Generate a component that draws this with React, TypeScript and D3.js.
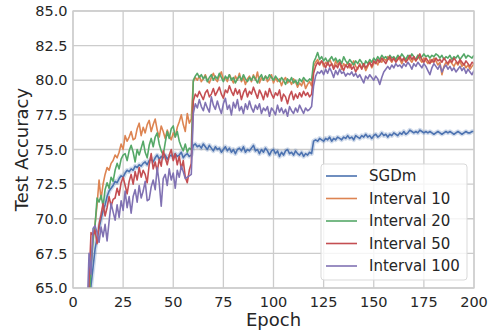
import * as d3 from 'd3';

const W = 489;
const H = 334;
const M = { top: 11, right: 15, bottom: 46, left: 73 };

const FIRST_EPOCH = 7;

const sgdm = [
  61.0, 63.5, 65.2, 66.5, 67.8, 68.6, 69.3, 70.0, 70.6, 71.0, 71.6, 72.0, 72.2, 72.4,
  72.7, 72.6, 72.9, 73.1, 73.0, 73.3, 73.5, 73.4, 73.6, 73.5, 73.8, 73.7, 73.9, 73.8,
  74.0, 74.1, 73.9, 74.2, 74.3, 74.1, 74.4, 74.6, 74.3, 74.5, 74.4, 74.6, 74.3, 74.5,
  74.6, 74.4, 74.7, 74.5, 74.6, 74.8, 74.4, 74.6, 74.7, 74.5, 74.6, 75.3, 75.4, 75.2,
  75.3, 75.1, 75.4, 75.2, 75.0, 75.3, 75.1, 74.9, 75.2, 75.0, 75.1, 74.8, 75.0, 75.2,
  74.9, 75.1, 74.8, 75.0, 74.7, 75.0, 75.1, 74.9, 75.2, 74.8, 75.0, 74.9, 75.1, 75.3,
  74.9, 75.0, 74.7, 75.0, 74.8, 75.1, 74.9, 74.6, 74.9, 75.0, 74.7, 74.9, 74.5, 74.8,
  74.6, 74.9, 75.0, 74.7, 74.8, 74.6, 74.9, 74.7, 74.6, 74.8, 74.5, 74.7, 74.6, 74.8,
  74.7, 75.6, 75.7, 75.6, 75.8, 75.7, 75.6, 75.8, 75.7, 75.9, 75.6, 75.8, 75.7, 75.9,
  75.8, 75.7, 75.9, 75.8, 76.0, 75.8, 75.9, 75.7, 76.0, 75.9, 75.8, 76.0, 75.9, 76.1,
  75.9, 76.0, 75.8, 76.0, 76.1, 75.9, 76.0, 76.2, 76.0, 76.1, 75.9, 76.1, 76.0, 76.2,
  76.1, 76.0, 76.2, 76.1, 76.3, 76.1, 76.2, 76.4, 76.3, 76.2, 76.3, 76.2, 76.4, 76.3,
  76.2, 76.3, 76.2, 76.3, 76.2, 76.1, 76.2, 76.3, 76.2, 76.1, 76.2, 76.3, 76.2, 76.3,
  76.2, 76.1, 76.2, 76.3, 76.2, 76.1, 76.2, 76.3, 76.2, 76.2, 76.3, 76.3,
];

const interval10 = [
  60.5, 64.0, 66.8, 68.7, 69.6, 71.0, 72.8, 71.4, 72.5, 73.2, 73.7, 73.5, 74.0, 74.2,
  74.6, 74.4, 74.8, 75.4, 75.0, 76.0, 75.6, 75.9, 76.3, 75.7, 75.8, 76.5, 76.9, 76.0,
  76.6, 76.2, 76.8, 77.1, 76.3, 76.8, 77.2, 76.4, 75.9, 76.7, 76.3, 75.8, 76.4, 76.0,
  75.7, 76.2, 75.9, 76.6, 77.0, 77.5, 76.8, 76.3, 77.6, 76.9, 77.2, 79.9, 80.2, 80.0,
  80.3, 79.9, 80.1, 80.4, 80.0, 79.8, 80.2, 80.5, 80.1, 79.9, 80.3, 80.6, 80.0, 80.2,
  79.9, 80.4, 80.1, 79.8, 80.3, 80.0, 80.5, 79.9, 80.2, 79.7, 80.1, 80.3, 79.9, 80.4,
  80.0, 80.6, 79.8, 80.2, 80.0, 80.3, 79.9, 80.1, 80.4, 79.8, 80.2, 79.9, 80.1, 79.6,
  80.0, 80.2, 79.8, 80.0, 79.7, 80.1, 79.9, 79.5, 79.8, 79.6, 80.0, 79.4, 79.7, 79.9,
  79.6, 81.0, 81.3, 81.5, 81.2, 81.4, 81.0, 81.3, 81.1, 81.5, 81.2, 80.9, 81.4, 81.1,
  81.3, 80.8, 81.2, 81.0, 81.3, 80.9, 81.1, 81.4, 81.0, 80.8, 81.2, 80.9, 81.1, 80.7,
  81.0, 81.3, 80.9, 81.2, 81.4, 81.1, 81.5, 81.3, 81.6, 81.4, 81.7, 81.5, 81.3, 81.6,
  81.4, 81.7, 81.5, 81.2, 81.6, 81.4, 81.7, 81.5, 81.3, 81.6, 81.4, 81.8, 81.5, 81.3,
  81.6, 81.4, 81.2, 81.5, 81.3, 81.6, 81.4, 81.1, 81.3, 80.4, 81.0, 81.3, 81.1, 81.4,
  81.2, 81.0, 81.3, 81.1, 81.4, 81.0, 81.2, 80.9, 81.1, 80.8, 81.0, 81.2,
];

const interval20 = [
  60.0, 63.8, 66.5, 68.4, 69.5, 71.5, 71.2, 71.7, 70.9, 72.1, 72.6, 72.2, 73.0, 72.7,
  73.5, 74.0, 73.6, 74.3, 74.6, 74.7, 74.2, 74.9, 75.3, 74.8, 74.1, 75.0, 74.6, 75.1,
  75.6, 74.8, 74.4, 75.3, 75.8, 75.2, 75.9, 76.2, 75.4, 74.9, 74.6, 75.5, 76.3, 75.8,
  76.5, 76.7, 75.9, 76.3, 75.6, 75.2, 74.9, 75.4, 74.8, 75.1, 75.0, 80.0, 80.3, 80.5,
  80.2, 80.4, 80.1, 80.3, 79.9, 80.2, 80.4, 80.0, 80.3, 80.1, 80.5, 80.2, 79.9, 80.3,
  80.1, 80.4, 80.0, 80.2, 79.8, 80.1, 80.3, 80.0, 80.4, 80.1, 79.9, 80.2, 80.0, 80.3,
  80.1, 79.8, 80.2, 80.4, 80.0, 80.3, 80.1, 80.4, 80.2, 80.0, 80.3, 80.1, 79.9, 80.2,
  80.0, 79.7, 80.1, 79.9, 80.2, 79.8, 80.0, 79.7, 80.1, 79.9, 80.2, 80.0, 79.9, 80.1,
  80.0, 81.3, 81.6, 82.0, 81.5, 81.7, 81.4, 81.6, 81.3, 81.5, 81.7, 81.4, 81.6, 81.3,
  81.5, 81.2, 81.7, 81.4, 81.2, 81.5, 81.3, 81.1, 81.4, 81.2, 81.5, 81.3, 81.0, 81.4,
  81.2, 81.5, 81.3, 81.6, 81.4, 81.7, 81.5, 81.8, 81.6, 81.7, 81.5, 81.8, 81.6, 81.7,
  81.5, 81.8, 81.6, 81.9, 81.7, 81.5, 81.8, 81.6, 81.9, 81.7, 81.5, 81.8, 81.6, 81.7,
  81.9, 81.7, 81.8, 81.6, 81.8, 81.7, 81.9, 81.8, 81.6, 81.8, 81.5, 81.7, 81.6, 81.8,
  81.5, 81.7, 81.6, 81.8, 81.5, 81.7, 81.9, 81.6, 81.8, 81.7, 81.6, 81.8,
];

const interval50 = [
  61.5, 65.5, 69.0, 68.8, 69.2, 68.2, 69.6, 70.3, 71.1, 70.2, 70.8, 71.6, 70.9, 71.4,
  71.5, 72.2, 71.7, 72.6, 73.0, 72.4, 71.8, 72.7, 73.2, 72.5, 73.4, 72.8, 73.7, 73.0,
  73.5, 73.2, 72.6, 73.9, 74.7, 73.6, 74.1, 73.4, 74.3, 73.8, 74.9, 74.4, 73.9, 74.6,
  75.0, 74.2, 74.7, 73.9, 74.5, 73.6, 74.2, 73.0, 72.6, 73.5, 74.0, 78.5, 79.0, 78.8,
  79.2, 78.9, 78.6, 79.1, 79.3, 78.8, 79.0, 79.4, 78.9, 79.2, 79.5, 79.0, 78.7, 79.3,
  79.1, 79.6, 79.2, 78.9, 79.4, 79.0, 79.3, 78.6, 79.1, 79.4, 78.8, 79.2, 79.0, 79.5,
  79.1, 78.7, 79.3, 79.0, 78.6, 79.2, 78.8, 79.4, 79.0, 78.7, 79.1, 78.9, 79.3, 78.5,
  79.0, 78.8, 78.3, 78.9, 79.2, 78.6, 79.0, 78.7, 79.1, 78.8, 79.2, 78.9, 79.1, 78.8,
  79.0, 80.5, 81.0, 81.3, 81.1, 81.4, 81.2, 80.9, 81.3, 81.0, 81.2, 80.8, 81.1, 80.9,
  81.3, 81.0, 80.7, 81.1, 80.9, 81.2, 80.8, 81.0, 80.6, 80.9, 81.1, 80.8, 81.2, 80.9,
  81.1, 81.3, 81.0, 81.4, 81.2, 81.5, 81.3, 81.6, 81.4, 81.2, 81.5, 81.7, 81.4, 81.6,
  81.3, 81.5, 81.7, 81.4, 81.6, 81.3, 81.5, 81.8, 81.5, 81.7, 81.4, 81.6, 81.9, 81.5,
  81.3, 81.6, 81.4, 81.2, 81.5, 81.3, 81.6, 81.4, 81.5, 81.3, 81.6, 81.4, 81.2, 81.5,
  81.3, 81.6, 81.4, 81.2, 81.5, 81.3, 81.1, 81.4, 81.2, 81.0, 81.3, 81.2,
];

const interval100 = [
  63.0, 67.5, 66.0, 69.3, 69.5, 69.0, 68.3, 69.4, 68.7, 69.6, 68.4, 69.8, 71.1, 70.5,
  69.9, 71.0, 70.1, 71.3, 70.6, 72.0, 70.8, 71.6, 70.4, 71.6, 72.1, 71.2, 72.4, 71.5,
  72.0, 72.7, 71.3, 71.4, 72.3, 72.8, 72.1, 73.7, 72.6, 70.9, 72.9, 73.2, 72.4, 73.6,
  72.8, 73.3, 72.2, 73.5, 73.0, 73.8, 73.4, 72.9, 73.0, 73.1, 73.2, 77.6, 78.3, 78.0,
  78.6, 78.1, 77.8, 78.4, 78.0, 77.7, 78.8, 78.2, 77.9, 78.5, 78.0, 77.6, 78.3, 78.7,
  77.9, 78.2, 77.5, 78.4, 78.0, 78.6, 77.8, 78.1, 77.6, 78.3, 77.9, 78.5, 78.0, 77.7,
  78.2, 77.9, 78.3, 77.6, 78.0, 77.8, 78.1, 77.4, 78.0, 77.8, 77.5, 78.2, 77.7, 78.0,
  77.6, 77.9, 77.4, 78.1, 77.8, 77.6, 78.0, 77.7, 78.2, 77.9, 77.6, 78.0, 77.8, 77.9,
  78.1, 79.6, 80.3, 80.6, 80.5, 80.7, 80.4, 80.8, 80.5, 80.9, 80.6, 80.2, 80.7, 80.4,
  80.8, 80.5, 80.6, 80.3, 80.5, 80.4, 80.6, 80.3, 80.5, 80.2, 80.4, 80.1, 79.8, 80.3,
  80.1, 80.4, 80.2, 80.0, 80.3, 80.1, 79.7, 80.2, 80.6, 80.8, 81.0, 80.8, 81.1, 80.9,
  81.2, 81.0, 81.1, 80.9, 81.2, 81.0, 81.3, 81.1, 80.8, 81.2, 81.0, 81.3, 81.1, 80.9,
  81.2, 81.0, 80.7, 80.4, 80.9, 81.2, 81.0, 80.8, 81.1, 80.6, 80.9, 81.1, 80.8, 81.0,
  80.7, 80.9, 80.6, 80.8, 81.0, 80.7, 80.9, 80.5, 80.8, 80.6, 80.4, 80.7,
];

const seriesNames = ['SGDm', 'Interval 10', 'Interval 20', 'Interval 50', 'Interval 100'];
const seriesValues = [sgdm, interval10, interval20, interval50, interval100];
const colors = ['#4c72b0', '#dd8452', '#55a868', '#c44e52', '#8172b3'];

const xTicks = [0, 25, 50, 75, 100, 125, 150, 175, 200];
const yTicks = [65, 67.5, 70, 72.5, 75, 77.5, 80, 82.5, 85];

const FONT = '"DejaVu Sans", sans-serif';
const TEXT = '#262626';
const GRID = '#cccccc';

export default function App() {
  const innerW = W - M.left - M.right;
  const innerH = H - M.top - M.bottom;
  const x = d3.scaleLinear().domain([0, 200]).range([M.left, M.left + innerW]);
  const y = d3.scaleLinear().domain([65, 85]).range([M.top + innerH, M.top]);

  const line = d3.line<number>()
    .x((_, i) => x(FIRST_EPOCH + i))
    .y(d => y(d));

  const legX = 321;
  const legY = 164;
  const rowH = 22.5;

  return (
    <svg width={W} height={H} style={{ position: 'absolute', left: 0, top: 0, background: '#fff' }}
      fontFamily={FONT}>
      <defs>
        <clipPath id="plot-clip">
          <rect x={M.left} y={M.top} width={innerW} height={innerH} />
        </clipPath>
      </defs>

      {/* grid */}
      {xTicks.map(t => (
        <line key={'gx' + t} x1={x(t)} x2={x(t)} y1={M.top} y2={M.top + innerH}
          stroke={GRID} strokeWidth={1.3} />
      ))}
      {yTicks.map(t => (
        <line key={'gy' + t} x1={M.left} x2={M.left + innerW} y1={y(t)} y2={y(t)}
          stroke={GRID} strokeWidth={1.3} />
      ))}

      {/* lines */}
      <g clipPath="url(#plot-clip)">
        <path d={line(sgdm) ?? ''} fill="none" stroke={colors[0]} strokeOpacity={0.25}
          strokeWidth={4.5} strokeLinejoin="round" />
        {seriesValues.map((vals, i) => (
          <path key={seriesNames[i]} d={line(vals) ?? ''} fill="none" stroke={colors[i]}
            strokeWidth={1.6} strokeLinejoin="round" />
        ))}
      </g>

      {/* frame */}
      <rect x={M.left} y={M.top} width={innerW} height={innerH} fill="none"
        stroke={GRID} strokeWidth={1.3} />

      {/* tick labels */}
      {xTicks.map(t => (
        <text key={'tx' + t} x={x(t)} y={M.top + innerH + 18.5} textAnchor="middle"
          fontSize={14.5} fill={TEXT}>{t}</text>
      ))}
      {yTicks.map(t => (
        <text key={'ty' + t} x={M.left - 5.5} y={y(t) + 5.2} textAnchor="end"
          fontSize={14.5} fill={TEXT}>{t.toFixed(1)}</text>
      ))}

      {/* axis labels */}
      <text x={M.left + innerW / 2} y={326} textAnchor="middle" fontSize={18} fill={TEXT}>Epoch</text>
      <text transform={`translate(28,${M.top + innerH / 2}) rotate(-90)`} textAnchor="middle"
        fontSize={18} fill={TEXT}>Test Accuracy</text>

      {/* legend */}
      <rect x={legX} y={legY} width={146} height={116} rx={3} fill="#fff" fillOpacity={0.8}
        stroke="#d9d9d9" strokeWidth={1} />
      {seriesNames.map((name, i) => (
        <g key={'lg' + name} transform={`translate(${legX + 5},${legY + 12 + i * rowH})`}>
          <line x1={0} x2={31} y1={0} y2={0} stroke={colors[i]} strokeWidth={1.6} />
          <text x={43} y={5.3} fontSize={15} fill={TEXT}>{name}</text>
        </g>
      ))}
    </svg>
  );
}
